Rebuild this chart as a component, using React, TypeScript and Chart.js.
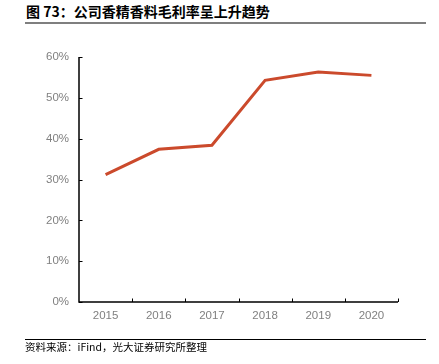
import React, { useEffect, useRef } from "react";
import { Chart, registerables } from "chart.js";

Chart.register(...registerables);

const title = "图 73：公司香精香料毛利率呈上升趋势";
const source = "资料来源：iFind，光大证券研究所整理";
const years = ["2015", "2016", "2017", "2018", "2019", "2020"];
const grossMargin = [31.2, 37.4, 38.4, 54.3, 56.3, 55.5];
const yTicks = [0, 10, 20, 30, 40, 50, 60];

const axisPlugin = {
  id: "axisPlugin",
  afterDraw(chart: any) {
    const ctx = chart.ctx;
    const x = chart.scales.x;
    const y = chart.scales.y;
    const left = chart.chartArea.left;
    const right = chart.chartArea.right;
    const top = y.getPixelForValue(60);
    const bottom = y.getPixelForValue(0);
    ctx.save();
    ctx.strokeStyle = "#000000";
    ctx.lineWidth = 1.5;
    ctx.beginPath();
    ctx.moveTo(left, top);
    ctx.lineTo(left, bottom);
    ctx.lineTo(right, bottom);
    ctx.stroke();
    ctx.lineWidth = 1;
    ctx.beginPath();
    yTicks.forEach((v) => {
      const py = Math.round(y.getPixelForValue(v)) + 0.5;
      ctx.moveTo(left, py);
      ctx.lineTo(left + 3.5, py);
    });
    for (let i = 0; i < years.length; i++) {
      const px = Math.round(x.getPixelForValue(i + 0.5)) + 0.5;
      ctx.moveTo(px, bottom);
      ctx.lineTo(px, bottom - 3.5);
    }
    ctx.stroke();
    ctx.restore();
  },
};

export default function App() {
  const ref = useRef<HTMLCanvasElement>(null);
  useEffect(() => {
    if (!ref.current) return;
    const chart = new Chart(ref.current, {
      type: "line",
      data: {
        labels: years,
        datasets: [
          {
            data: grossMargin,
            borderColor: "#CB4A2C",
            borderWidth: 3,
            pointRadius: 0,
            tension: 0,
            fill: false,
          },
        ],
      },
      options: {
        animation: false,
        responsive: false,
        layout: { padding: { left: 0, top: 57, right: 41, bottom: 42 } },
        plugins: { legend: { display: false }, tooltip: { enabled: false } },
        scales: {
          x: {
            offset: true,
            grid: { display: false, drawTicks: false },
            border: { display: false },
            ticks: {
              color: "#808080",
              font: { family: "Liberation Sans, Arial", size: 11.5 },
              padding: 7,
              maxRotation: 0,
            },
            afterFit: (s: any) => {
              s.height = 20;
            },
          },
          y: {
            min: 0,
            max: 60,
            grid: { display: false, drawTicks: false },
            border: { display: false },
            ticks: {
              stepSize: 10,
              color: "#808080",
              font: { family: "Liberation Sans, Arial", size: 11.5 },
              padding: 10,
              callback: (v: any) => v + "%",
            },
            afterFit: (s: any) => {
              s.width = 79;
            },
          },
        },
      },
      plugins: [axisPlugin],
    });
    return () => chart.destroy();
  }, []);

  return (
    <div
      style={{
        position: "absolute",
        left: 0,
        top: 0,
        width: 439,
        height: 364,
        background: "#fff",
        fontFamily: "'Noto Sans CJK SC', 'Liberation Sans', sans-serif",
      }}
    >
      <div
        style={{
          position: "absolute",
          left: 26,
          top: 2,
          fontSize: 14,
          fontWeight: "bold",
          lineHeight: "18px",
          color: "#000",
          whiteSpace: "nowrap",
        }}
      >
        {title}
      </div>
      <div
        style={{
          position: "absolute",
          left: 25,
          top: 22,
          width: 401,
          height: 2,
          background: "#7f7f7f",
        }}
      />
      <canvas
        ref={ref}
        width={439}
        height={364}
        style={{ position: "absolute", left: 0, top: 0 }}
      />
      <div
        style={{
          position: "absolute",
          left: 25,
          top: 339,
          width: 401,
          height: 1,
          background: "#000",
        }}
      />
      <div
        style={{
          position: "absolute",
          left: 25,
          top: 340,
          fontSize: 10.5,
          lineHeight: "14px",
          color: "#000",
          whiteSpace: "nowrap",
        }}
      >
        {source}
      </div>
    </div>
  );
}
